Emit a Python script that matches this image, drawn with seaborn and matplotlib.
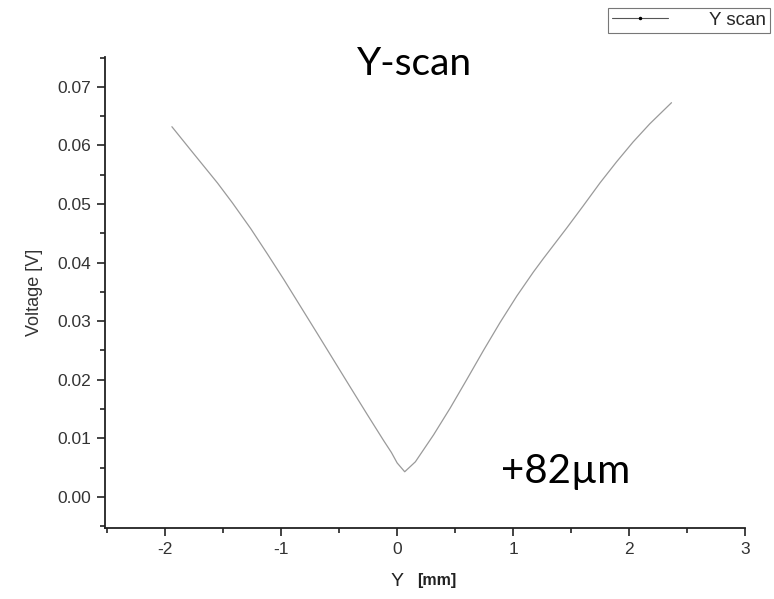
import matplotlib
matplotlib.use("Agg")
import matplotlib.pyplot as plt
from matplotlib.lines import Line2D
from matplotlib.ticker import MultipleLocator
import seaborn as sns
import pandas as pd

# ---- data ----
y_pos_mm = [-1.943, -1.780, -1.550, -1.421, -1.263, -1.120, -0.977, -0.833,
            -0.689, -0.546, -0.403, -0.259, -0.116, -0.050, 0.000, 0.065,
            0.157, 0.314, 0.458, 0.602, 0.744, 0.888, 1.032, 1.175,
            1.261, 1.462, 1.605, 1.749, 1.892, 2.035, 2.179, 2.366]
voltage_v = [0.0632, 0.0592, 0.0536, 0.0502, 0.0458, 0.0415, 0.0371, 0.0325,
             0.0279, 0.0233, 0.0187, 0.0141, 0.0096, 0.0076, 0.0058, 0.0043,
             0.0060, 0.0106, 0.0152, 0.0201, 0.0250, 0.0298, 0.0343, 0.0384,
             0.0407, 0.0459, 0.0497, 0.0536, 0.0572, 0.0606, 0.0637, 0.0673]
series_name = "Y scan"
x_ticks = [-2, -1, 0, 1, 2, 3]
y_ticks = [0.00, 0.01, 0.02, 0.03, 0.04, 0.05, 0.06, 0.07]

df = pd.DataFrame({"Y": y_pos_mm, "V": voltage_v})

sns.set_theme(style="ticks")
plt.rcParams["font.family"] = ["Liberation Sans", "DejaVu Sans"]

fig = plt.figure(figsize=(7.74, 5.99), dpi=100)
ax = fig.add_axes([105 / 774, 1 - 528 / 599, 640 / 774, 471 / 599])

sns.lineplot(data=df, x="Y", y="V", ax=ax, color="#9a9a9a", linewidth=0.9,
             sort=False, legend=False)

ax.set_xlim(-2.52, 3.0)
ax.set_ylim(-0.0053, 0.0751)
ax.set_xticks(x_ticks)
ax.set_xticklabels([str(t) for t in x_ticks])
ax.set_yticks(y_ticks)
ax.set_yticklabels([f"{t:.2f}" for t in y_ticks])
ax.xaxis.set_minor_locator(MultipleLocator(0.5))
ax.yaxis.set_minor_locator(MultipleLocator(0.005))

for s in ["top", "right"]:
    ax.spines[s].set_visible(False)
for s in ["left", "bottom"]:
    ax.spines[s].set_color("#222222")
    ax.spines[s].set_linewidth(1.3)

ax.tick_params(which="major", direction="out", length=6, width=1.2,
               color="#222222", labelsize=12.5, labelcolor="#333333", pad=4)
ax.tick_params(which="minor", direction="out", length=3.5, width=1.2,
               color="#222222")

ax.set_xlabel("")
ax.set_ylabel("Voltage [V]", fontsize=13, color="#333333", labelpad=10)

# x-axis label: "Y" regular + "[mm]" bold
fig.text(404 / 774, 1 - 581 / 599, "Y", fontsize=14, color="#222222",
         ha="right", va="center")
fig.text(417 / 774, 1 - 580 / 599, "[mm]", fontsize=11.5, color="#222222",
         fontweight="bold", ha="left", va="center")

fig.text(415 / 774, 1 - 64 / 599, "Y-scan", fontsize=28,
         family=["Lato", "DejaVu Sans"], color="black", ha="center", va="center")
fig.text(566 / 774, 1 - 471 / 599, "+82µm", fontsize=29,
         family=["Lato", "DejaVu Sans"], color="black", ha="center", va="center")

handle = Line2D([], [], color="#555555", linewidth=0.8, marker=".",
                markersize=3, markerfacecolor="black", markeredgecolor="black")
leg = fig.legend([handle], [series_name], loc="upper right",
                 bbox_to_anchor=(770 / 774, 1 - 8 / 599), frameon=True,
                 fancybox=False, fontsize=13.5, handlelength=3.0,
                 handletextpad=2.2, borderpad=0.2, borderaxespad=0)
leg.get_frame().set_edgecolor("#555555")
leg.get_frame().set_linewidth(0.8)

fig.savefig("out.png", dpi=100)
